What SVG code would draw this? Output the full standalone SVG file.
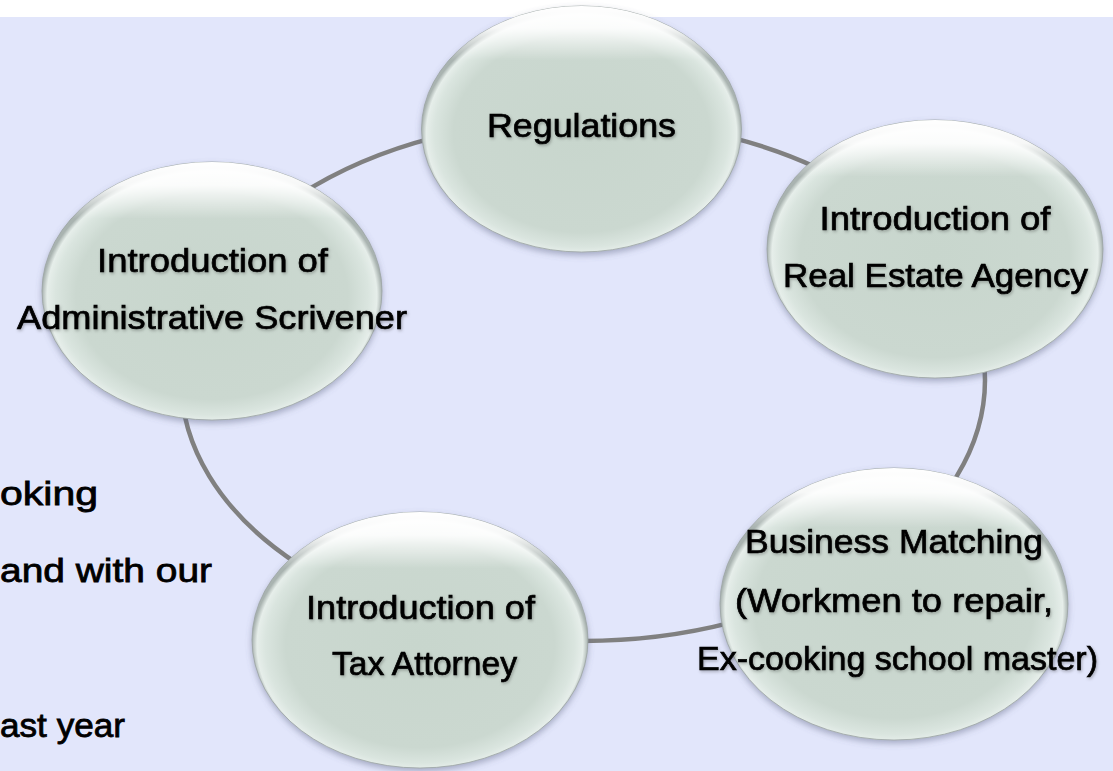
<svg xmlns="http://www.w3.org/2000/svg" width="1113" height="771" viewBox="0 0 1113 771">
<defs>
<radialGradient id="bodyGrad" cx="50%" cy="52%" r="50%">
<stop offset="0%" stop-color="#c8d6cd"/>
<stop offset="80%" stop-color="#cbd8d0"/>
<stop offset="92%" stop-color="#dae5df"/>
<stop offset="97%" stop-color="#e6eeea"/>
<stop offset="100%" stop-color="#a9b3b0"/>
</radialGradient>
<linearGradient id="hiGrad" x1="0" y1="0" x2="0" y2="1">
<stop offset="0%" stop-color="#ffffff" stop-opacity="1"/>
<stop offset="9%" stop-color="#ffffff" stop-opacity="0.9"/>
<stop offset="22%" stop-color="#ffffff" stop-opacity="0"/>
<stop offset="100%" stop-color="#ffffff" stop-opacity="0"/>
</linearGradient>
<filter id="nodeShadow" x="-10%" y="-10%" width="120%" height="125%">
<feDropShadow dx="0" dy="3" stdDeviation="3" flood-color="#5a6080" flood-opacity="0.45"/>
</filter>
<filter id="txtShadow" x="-5%" y="-30%" width="110%" height="160%">
<feDropShadow dx="1" dy="1.5" stdDeviation="1.5" flood-color="#000000" flood-opacity="0.28"/>
</filter>
</defs>
<style>
.bg{fill:#e2e6fb}
.ring{fill:none;stroke:#808080;stroke-width:4.5}
.body{fill:url(#bodyGrad);stroke:#9aa3a2;stroke-width:0.8}
.hi{fill:url(#hiGrad)}
.lbl{font-family:"Liberation Sans",Arial,sans-serif;font-size:34px;fill:#000;stroke:#000;stroke-width:0.7;text-anchor:middle}
.side{font-family:"Liberation Sans",Arial,sans-serif;font-size:34px;fill:#000;stroke:#000;stroke-width:0.8}
</style>
<rect x="0" y="0" width="1113" height="771" fill="#ffffff"/>
<rect class="bg" x="0" y="17" width="1113" height="754"/>
<g id="side-text">
<text class="side" x="0" y="505" textLength="98" lengthAdjust="spacingAndGlyphs">oking</text>
<text class="side" x="0" y="582" textLength="212" lengthAdjust="spacingAndGlyphs">and with our</text>
<text class="side" x="0" y="737" textLength="125" lengthAdjust="spacingAndGlyphs">ast year</text>
</g>
<g id="connectors">
<ellipse class="ring" cx="583" cy="380" rx="402" ry="261"/>
</g>
<g id="node-regulations">
<ellipse class="body" cx="581.5" cy="129" rx="160" ry="123" filter="url(#nodeShadow)"/>
<ellipse class="hi" cx="581.5" cy="129" rx="160" ry="123"/>
<g filter="url(#txtShadow)">
<text class="lbl" x="581.5" y="137" textLength="189" lengthAdjust="spacingAndGlyphs">Regulations</text>
</g>
</g>
<g id="node-real-estate">
<ellipse class="body" cx="935" cy="249" rx="168" ry="129" filter="url(#nodeShadow)"/>
<ellipse class="hi" cx="935" cy="249" rx="168" ry="129"/>
<g filter="url(#txtShadow)">
<text class="lbl" x="935" y="230" textLength="231" lengthAdjust="spacingAndGlyphs">Introduction of</text>
<text class="lbl" x="935.5" y="287" textLength="305" lengthAdjust="spacingAndGlyphs">Real Estate Agency</text>
</g>
</g>
<g id="node-business">
<ellipse class="body" cx="894" cy="604" rx="174" ry="136" filter="url(#nodeShadow)"/>
<ellipse class="hi" cx="894" cy="604" rx="174" ry="136"/>
<g filter="url(#txtShadow)">
<text class="lbl" x="894" y="553" textLength="298" lengthAdjust="spacingAndGlyphs">Business Matching</text>
<text class="lbl" x="894" y="612" textLength="318" lengthAdjust="spacingAndGlyphs">(Workmen to repair,</text>
<text class="lbl" x="897.5" y="670" textLength="401" lengthAdjust="spacingAndGlyphs">Ex-cooking school master)</text>
</g>
</g>
<g id="node-tax">
<ellipse class="body" cx="420" cy="640" rx="168" ry="128" filter="url(#nodeShadow)"/>
<ellipse class="hi" cx="420" cy="640" rx="168" ry="128"/>
<g filter="url(#txtShadow)">
<text class="lbl" x="420.5" y="619" textLength="229" lengthAdjust="spacingAndGlyphs">Introduction of</text>
<text class="lbl" x="424.5" y="675" textLength="185" lengthAdjust="spacingAndGlyphs">Tax Attorney</text>
</g>
</g>
<g id="node-admin">
<ellipse class="body" cx="212" cy="291" rx="170" ry="129" filter="url(#nodeShadow)"/>
<ellipse class="hi" cx="212" cy="291" rx="170" ry="129"/>
<g filter="url(#txtShadow)">
<text class="lbl" x="212.5" y="272" textLength="231" lengthAdjust="spacingAndGlyphs">Introduction of</text>
<text class="lbl" x="212" y="329" textLength="390" lengthAdjust="spacingAndGlyphs">Administrative Scrivener</text>
</g>
</g>
</svg>
